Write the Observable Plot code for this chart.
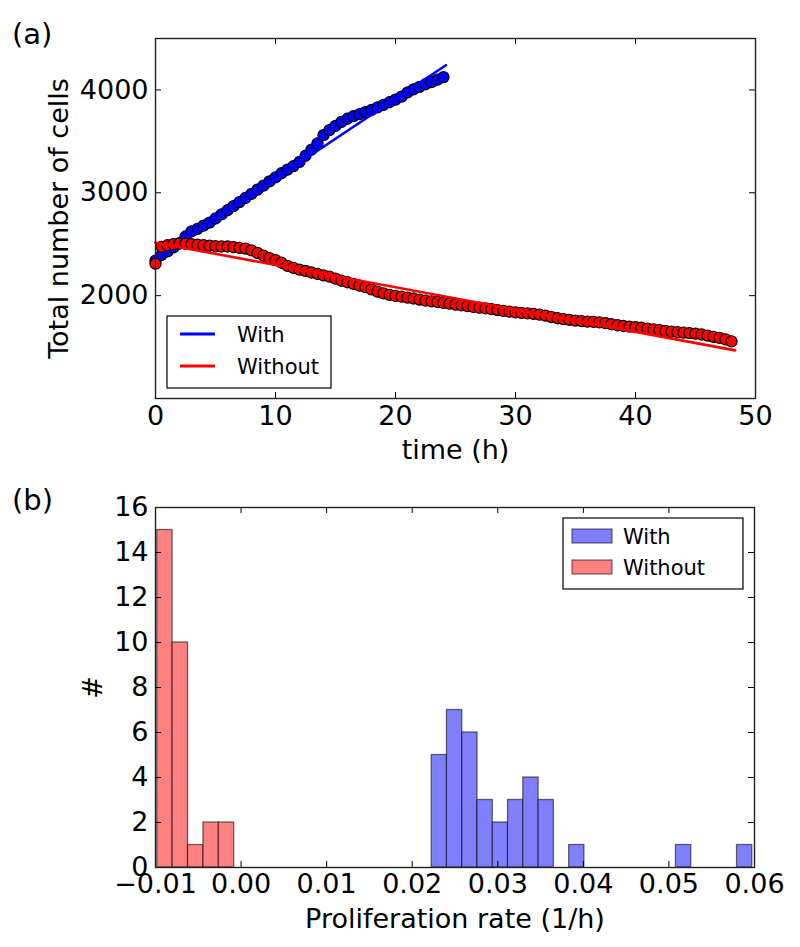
<!DOCTYPE html>
<html><head><meta charset="utf-8">
<script src="https://cdn.jsdelivr.net/npm/d3@7"></script>
<script src="https://cdn.jsdelivr.net/npm/@observablehq/plot@0.6"></script>
<style>
body{margin:0;background:#fff;}
#chart{position:relative;width:800px;height:947px;font-family:"DejaVu Sans";background:#fff;}
#chart svg{display:block;}
</style></head><body><div id="chart"></div>
<script>
// ---------- Panel (a): total number of cells over time ----------
const withTime = [0,0.5,1,1.5,2,2.5,3,3.5,4,4.5,5,5.5,6,6.5,7,7.5,8,8.5,9,9.5,10,10.5,11,11.5,12,12.5,13,13.5,14,14.5,15,15.5,16,16.5,17,17.5,18,18.5,19,19.5,20,20.5,21,21.5,22,22.5,23,23.5,24];
const withCells = [2340,2395,2430,2470,2510,2575,2625,2650,2680,2710,2750,2790,2830,2870,2910,2950,2990,3030,3070,3110,3150,3190,3225,3260,3300,3360,3420,3480,3560,3610,3650,3690,3720,3745,3765,3785,3805,3830,3855,3880,3905,3935,3975,4005,4030,4055,4075,4100,4125];
const withoutTime = [0,0.5,1,1.5,2,2.5,3,3.5,4,4.5,5,5.5,6,6.5,7,7.5,8,8.5,9,9.5,10,10.5,11,11.5,12,12.5,13,13.5,14,14.5,15,15.5,16,16.5,17,17.5,18,18.5,19,19.5,20,20.5,21,21.5,22,22.5,23,23.5,24,24.5,25,25.5,26,26.5,27,27.5,28,28.5,29,29.5,30,30.5,31,31.5,32,32.5,33,33.5,34,34.5,35,35.5,36,36.5,37,37.5,38,38.5,39,39.5,40,40.5,41,41.5,42,42.5,43,43.5,44,44.5,45,45.5,46,46.5,47,47.5,48];
const withoutCells = [2310,2475,2490,2500,2505,2505,2500,2495,2490,2485,2480,2478,2478,2472,2465,2458,2440,2415,2390,2365,2345,2320,2290,2270,2252,2240,2225,2212,2198,2185,2165,2145,2130,2115,2098,2082,2060,2040,2022,2008,1998,1990,1980,1972,1962,1952,1945,1938,1930,1922,1913,1905,1898,1890,1883,1876,1868,1860,1852,1845,1838,1832,1828,1822,1815,1805,1792,1780,1772,1765,1758,1752,1748,1745,1740,1732,1722,1712,1705,1698,1693,1688,1680,1672,1665,1658,1650,1645,1640,1635,1630,1622,1612,1600,1590,1575,1555];
const withFitTime = [0, 24.2];
const withFitCells = [2360, 4240];
const withoutFitTime = [0, 48.3];
const withoutFitCells = [2515, 1468];
const timeTicks = [0,10,20,30,40,50];
const cellTicks = [2000,3000,4000];
const seriesLabels = ["With","Without"];

// ---------- Panel (b): histogram of proliferation rates ----------
const withEdges = [0.02228,0.02406,0.02585,0.02763,0.02942,0.03120,0.03298,0.03477,0.03655,0.03834,0.04012,0.04190,0.04369,0.04547,0.04726,0.04904,0.05082,0.05261,0.05439,0.05618,0.05796,0.05974];
const withCounts = [5,7,6,3,2,3,4,3,0,1,0,0,0,0,0,0,1,0,0,0,1];
const withoutEdges = [-0.0098,-0.0080,-0.0062,-0.0044,-0.0026,-0.0008];
const withoutCounts = [15,10,1,2,2];
const rateTicks = [-0.01,0,0.01,0.02,0.03,0.04,0.05,0.06];
const countTicks = [0,2,4,6,8,10,12,14,16];

const BLUE = "#0000ff", RED = "#ff0000";
const FONT = "DejaVu Sans";

const toPts = (ts, ns) => ts.map((t, i) => ({t, n: ns[i]}));
const toBins = (edges, counts) => counts.map((c, i) => ({x1: edges[i], x2: edges[i+1], c})).filter(d => d.c > 0);

const chart = document.getElementById("chart");

// Panel (a)
const W = 800;
const A = {h: 470, l: 155, r: 45, t: 38, b: 72};
const aInnerW = W - A.l - A.r, aInnerH = A.h - A.t - A.b;
const plotA = Plot.plot({
  width: W, height: A.h,
  marginLeft: A.l, marginRight: A.r, marginTop: A.t, marginBottom: A.b,
  style: {fontFamily: FONT, fontSize: "27px", color: "#000", background: "#fff", overflow: "visible"},
  x: {domain: [0, 50], label: null},
  y: {domain: [1000, 4500], label: null},
  marks: [
    Plot.dot(toPts(withTime, withCells), {x: "t", y: "n", r: 5.6, fill: BLUE, stroke: "#000", strokeWidth: 1.1}),
    Plot.line(toPts(withFitTime, withFitCells), {x: "t", y: "n", stroke: BLUE, strokeWidth: 2.6}),
    Plot.dot(toPts(withoutTime, withoutCells), {x: "t", y: "n", r: 5.6, fill: RED, stroke: "#000", strokeWidth: 1.1}),
    Plot.line(toPts(withoutFitTime, withoutFitCells), {x: "t", y: "n", stroke: RED, strokeWidth: 2.6}),
    Plot.tickX(timeTicks, {x: d => d, insetBottom: aInnerH - 6, stroke: "#000"}),
    Plot.tickX(timeTicks, {x: d => d, insetTop: aInnerH - 6, stroke: "#000"}),
    Plot.tickY(cellTicks, {y: d => d, insetRight: aInnerW - 6, stroke: "#000"}),
    Plot.tickY(cellTicks, {y: d => d, insetLeft: aInnerW - 6, stroke: "#000"}),
    Plot.axisX({ticks: timeTicks, tickSize: 0, tickPadding: 7, tickFormat: d => String(d), label: null, fontSize: 27}),
    Plot.axisY({ticks: cellTicks, tickSize: 0, tickPadding: 7, tickFormat: d => String(d), label: null, fontSize: 27}),
    Plot.frame({stroke: "#222", strokeWidth: 1.4}),
    Plot.text(["time (h)"], {text: d => d, frameAnchor: "bottom", dy: 52, lineAnchor: "middle", fontSize: 27}),
    Plot.text(["Total number of cells"], {text: d => d, frameAnchor: "left", textAnchor: "middle", rotate: -90, dx: -96, lineAnchor: "middle", fontSize: 27})
  ]
});
chart.appendChild(plotA);

// Panel (b)
const B = {h: 477, l: 155, r: 46, t: 37, b: 80};
const bInnerW = W - B.l - B.r, bInnerH = B.h - B.t - B.b;
const fmtRate = d => (d < -1e-9 ? "\u2212" : "") + Math.abs(d).toFixed(2);
const plotB = Plot.plot({
  width: W, height: B.h,
  marginLeft: B.l, marginRight: B.r, marginTop: B.t, marginBottom: B.b,
  style: {fontFamily: FONT, fontSize: "27px", color: "#000", background: "#fff", overflow: "visible"},
  x: {domain: [-0.01, 0.06], label: null},
  y: {domain: [0, 16], label: null},
  marks: [
    Plot.rect(toBins(withEdges, withCounts), {x1: "x1", x2: "x2", y1: 0, y2: "c", fill: "#8080ff", stroke: "#000", strokeOpacity: 0.55, strokeWidth: 1.3}),
    Plot.rect(toBins(withoutEdges, withoutCounts), {x1: "x1", x2: "x2", y1: 0, y2: "c", fill: "#ff8080", stroke: "#000", strokeOpacity: 0.55, strokeWidth: 1.3}),
    Plot.tickX(rateTicks, {x: d => d, insetBottom: bInnerH - 6, stroke: "#000"}),
    Plot.tickX(rateTicks, {x: d => d, insetTop: bInnerH - 6, stroke: "#000"}),
    Plot.tickY(countTicks, {y: d => d, insetRight: bInnerW - 6, stroke: "#000"}),
    Plot.tickY(countTicks, {y: d => d, insetLeft: bInnerW - 6, stroke: "#000"}),
    Plot.axisX({ticks: rateTicks, tickSize: 0, tickPadding: 6, tickFormat: fmtRate, label: null, fontSize: 27}),
    Plot.axisY({ticks: countTicks, tickSize: 0, tickPadding: 7, tickFormat: d => String(d), label: null, fontSize: 27}),
    Plot.frame({stroke: "#222", strokeWidth: 1.4}),
    Plot.text(["Proliferation rate (1/h)"], {text: d => d, frameAnchor: "bottom", dy: 52, lineAnchor: "middle", fontSize: 27}),
    Plot.text(["#"], {text: d => d, frameAnchor: "left", textAnchor: "middle", rotate: -90, dx: -62, lineAnchor: "middle", fontSize: 27})
  ]
});
chart.appendChild(plotB);

// Overlay: panel letters and legends
const ov = d3.select(chart).append("svg")
  .attr("width", 800).attr("height", 947)
  .style("position", "absolute").style("left", "0px").style("top", "0px")
  .style("font-family", FONT);

ov.append("text").attr("x", 12).attr("y", 44).attr("font-size", 29).text("(a)");
ov.append("text").attr("x", 12).attr("y", 510).attr("font-size", 29).text("(b)");

// legend (a)
const la = ov.append("g");
la.append("rect").attr("x", 167).attr("y", 316).attr("width", 164).attr("height", 72)
  .attr("fill", "#fff").attr("stroke", "#000").attr("stroke-width", 1.2);
[BLUE, RED].forEach((c, i) => {
  const cy = 334 + i * 32;
  la.append("line").attr("x1", 180).attr("x2", 215).attr("y1", cy).attr("y2", cy)
    .attr("stroke", c).attr("stroke-width", 3);
  la.append("text").attr("x", 237).attr("y", cy + 7.5).attr("font-size", 21).text(seriesLabels[i]);
});

// legend (b)
const lb = ov.append("g");
lb.append("rect").attr("x", 563).attr("y", 518).attr("width", 180).attr("height", 71)
  .attr("fill", "#fff").attr("stroke", "#000").attr("stroke-width", 1.2);
["#8080ff", "#ff8080"].forEach((c, i) => {
  const cy = 536 + i * 31;
  lb.append("rect").attr("x", 572).attr("y", cy - 7).attr("width", 40).attr("height", 14)
    .attr("fill", c).attr("stroke", "#000").attr("stroke-opacity", 0.55).attr("stroke-width", 1.2);
  lb.append("text").attr("x", 623).attr("y", cy + 7.5).attr("font-size", 21).text(seriesLabels[i]);
});
</script></body></html>
